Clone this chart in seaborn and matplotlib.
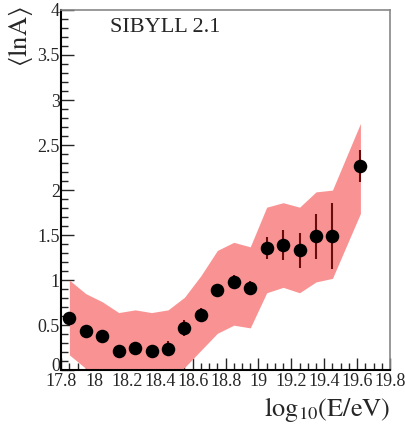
import numpy as np
import pandas as pd
import matplotlib
matplotlib.use("Agg")
import matplotlib.pyplot as plt
import matplotlib.transforms as mtransforms
from matplotlib.ticker import MultipleLocator
import seaborn as sns

# Mean log-mass per energy bin (SIBYLL 2.1 interpretation)
log_e = [17.85, 17.95, 18.05, 18.15, 18.25, 18.35, 18.45, 18.55, 18.65,
         18.75, 18.85, 18.95, 19.05, 19.15, 19.25, 19.35, 19.45, 19.62]
mean_lna = [0.58, 0.43, 0.38, 0.21, 0.25, 0.21, 0.24, 0.47, 0.61,
            0.89, 0.98, 0.91, 1.36, 1.39, 1.33, 1.49, 1.49, 2.27]
stat_err = [0.05, 0.05, 0.05, 0.06, 0.06, 0.07, 0.08, 0.09, 0.08,
            0.07, 0.08, 0.08, 0.12, 0.17, 0.19, 0.25, 0.37, 0.18]

# Systematic uncertainty band
sys_upper = [1.00, 0.85, 0.76, 0.64, 0.67, 0.64, 0.67, 0.81, 1.05,
             1.33, 1.42, 1.37, 1.81, 1.86, 1.81, 1.98, 2.00, 2.74]
sys_lower = [0.17, 0.02, -0.08, -0.15, -0.10, -0.15, -0.10, 0.03, 0.22,
             0.41, 0.50, 0.47, 0.86, 0.92, 0.86, 0.98, 1.02, 1.74]

df = pd.DataFrame({"logE": log_e, "lnA": mean_lna, "err": stat_err,
                   "up": sys_upper, "lo": sys_lower})

sns.set_style("ticks")
plt.rcParams["font.family"] = ["Liberation Serif", "DejaVu Serif"]
plt.rcParams["mathtext.fontset"] = "stix"

fig = plt.figure(figsize=(4.05, 4.33), dpi=100)
ax = fig.add_axes([0.151, 0.145, 0.812, 0.832])

ax.fill_between(df["logE"], df["lo"], df["up"], color="#f99393",
                linewidth=0, zorder=1)
ax.errorbar(df["logE"], df["lnA"], yerr=df["err"], fmt="none",
            ecolor="#6a0c0c", elinewidth=1.5, capsize=0, zorder=2)
sns.scatterplot(data=df, x="logE", y="lnA", ax=ax, color="black",
                s=95, edgecolor="black", linewidth=0, zorder=3, legend=False)

ax.set_xlim(17.8, 19.8)
ax.set_ylim(0, 4)
xt = np.round(np.arange(17.8, 19.81, 0.2), 1)
yt = np.arange(0, 4.01, 0.5)
ax.set_xticks(xt)
ax.set_xticklabels([f"{v:g}" for v in xt])
ax.set_yticks(yt)
ax.set_yticklabels([f"{v:g}" for v in yt])
ax.xaxis.set_minor_locator(MultipleLocator(0.05))
ax.yaxis.set_minor_locator(MultipleLocator(0.1))

ax.tick_params(axis="both", which="major", direction="in", length=9,
               width=1.0, labelsize=13, pad=1, top=False, right=False)
ax.tick_params(axis="both", which="minor", direction="in", length=5,
               width=1.0, top=False, right=False)
ax.tick_params(axis="x", which="major", pad=2)

# lift the "0" label a little so it sits clear of "17.8"
zero_lbl = ax.get_yticklabels()[0]
zero_lbl.set_transform(zero_lbl.get_transform() +
                       mtransforms.ScaledTranslation(0, 4 / 72, fig.dpi_scale_trans))

for side in ("left", "bottom"):
    ax.spines[side].set_color("black")
    ax.spines[side].set_linewidth(1.5)
for side in ("top", "right"):
    ax.spines[side].set_color("#888888")
    ax.spines[side].set_linewidth(1.2)

ax.set_xlabel("")
ax.set_ylabel("")
fig.text(0.963, 0.02, r"$\mathrm{log}_{10}\mathrm{(E/eV)}$", ha="right",
         va="bottom", fontsize=19)
fig.text(0.015, 0.985, r"$\langle\mathrm{lnA}\rangle$", ha="left", va="top",
         rotation=90, fontsize=19)
ax.text(0.15, 0.95, "SIBYLL 2.1", transform=ax.transAxes, ha="left",
        va="center", fontsize=16)

fig.savefig("out.png", dpi=100)
